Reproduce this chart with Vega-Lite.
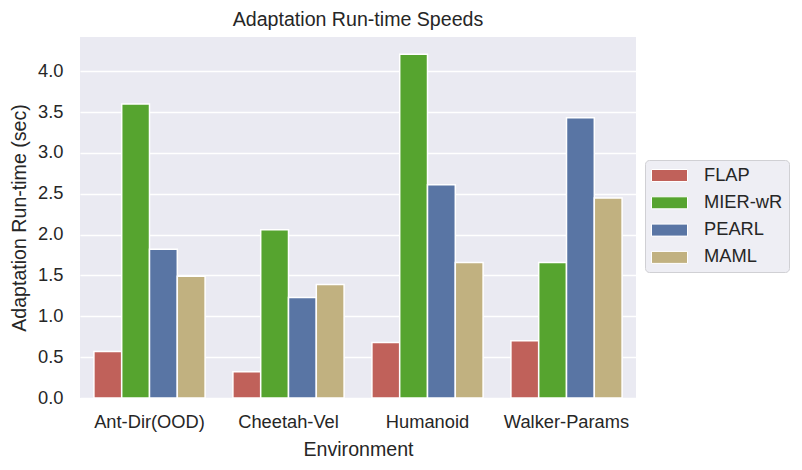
{
  "$schema": "https://vega.github.io/schema/vega-lite/v6.json",
  "autosize": "none",
  "width": 556,
  "height": 361,
  "padding": {"left": 80, "top": 37, "right": 166, "bottom": 72},
  "background": "white",
  "title": {"text": "Adaptation Run-time Speeds", "fontSize": 19.6, "fontWeight": "normal", "font": "Liberation Sans", "color": "#262626", "offset": 6},
  "data": {"values": [
    {"env": "Ant-Dir(OOD)", "method": "FLAP", "value": 0.57},
    {"env": "Ant-Dir(OOD)", "method": "MIER-wR", "value": 3.60},
    {"env": "Ant-Dir(OOD)", "method": "PEARL", "value": 1.82},
    {"env": "Ant-Dir(OOD)", "method": "MAML", "value": 1.49},
    {"env": "Cheetah-Vel", "method": "FLAP", "value": 0.32},
    {"env": "Cheetah-Vel", "method": "MIER-wR", "value": 2.06},
    {"env": "Cheetah-Vel", "method": "PEARL", "value": 1.23},
    {"env": "Cheetah-Vel", "method": "MAML", "value": 1.39},
    {"env": "Humanoid", "method": "FLAP", "value": 0.68},
    {"env": "Humanoid", "method": "MIER-wR", "value": 4.21},
    {"env": "Humanoid", "method": "PEARL", "value": 2.61},
    {"env": "Humanoid", "method": "MAML", "value": 1.66},
    {"env": "Walker-Params", "method": "FLAP", "value": 0.70},
    {"env": "Walker-Params", "method": "MIER-wR", "value": 1.66},
    {"env": "Walker-Params", "method": "PEARL", "value": 3.43},
    {"env": "Walker-Params", "method": "MAML", "value": 2.45}
  ]},
  "mark": {"type": "bar", "stroke": "white", "strokeWidth": 1.5},
  "encoding": {
    "x": {"field": "env", "type": "nominal", "sort": null,
      "scale": {"paddingInner": 0.2, "paddingOuter": 0.1},
      "axis": {"title": "Environment", "labelAngle": 0, "domain": false, "ticks": false, "grid": false,
        "labelFont": "Liberation Sans", "labelFontSize": 18.3, "labelColor": "#262626", "labelPadding": 15,
        "titleFont": "Liberation Sans", "titleFontSize": 19.6, "titleFontWeight": "normal", "titleColor": "#262626", "titlePadding": 10}},
    "xOffset": {"field": "method", "type": "nominal", "sort": ["FLAP", "MIER-wR", "PEARL", "MAML"], "scale": {"paddingInner": 0, "paddingOuter": 0}},
    "y": {"field": "value", "type": "quantitative",
      "scale": {"domain": [0, 4.42], "nice": false, "zero": true},
      "axis": {"title": "Adaptation Run-time (sec)", "values": [0, 0.5, 1, 1.5, 2, 2.5, 3, 3.5, 4], "format": ".1f",
        "domain": false, "ticks": false, "grid": true, "gridColor": "white", "gridWidth": 1.6,
        "labelFont": "Liberation Sans", "labelFontSize": 18.3, "labelColor": "#262626", "labelPadding": 17,
        "titleFont": "Liberation Sans", "titleFontSize": 19.6, "titleFontWeight": "normal", "titleColor": "#262626", "titlePadding": 8}},
    "color": {"field": "method", "type": "nominal", "sort": ["FLAP", "MIER-wR", "PEARL", "MAML"],
      "scale": {"domain": ["FLAP", "MIER-wR", "PEARL", "MAML"], "range": ["#C0615A", "#56A42F", "#5975A4", "#C1B180"]},
      "legend": {"title": null, "orient": "none", "legendX": 565, "legendY": 123,
        "symbolType": "M-1,-0.6667H3V0.6667H-1Z", "symbolSize": 324, "symbolStrokeColor": "white", "symbolStrokeWidth": 1,
        "labelFont": "Liberation Sans", "labelFontSize": 18.3, "labelColor": "#262626", "labelOffset": 34,
        "rowPadding": 8.3, "padding": 6, "fillColor": "#EEEEF4", "strokeColor": "#D0D0D4", "cornerRadius": 4}}
  },
  "config": {
    "view": {"fill": "#EAEAF2", "stroke": null},
    "legend": {"symbolOpacity": 1}
  }
}
